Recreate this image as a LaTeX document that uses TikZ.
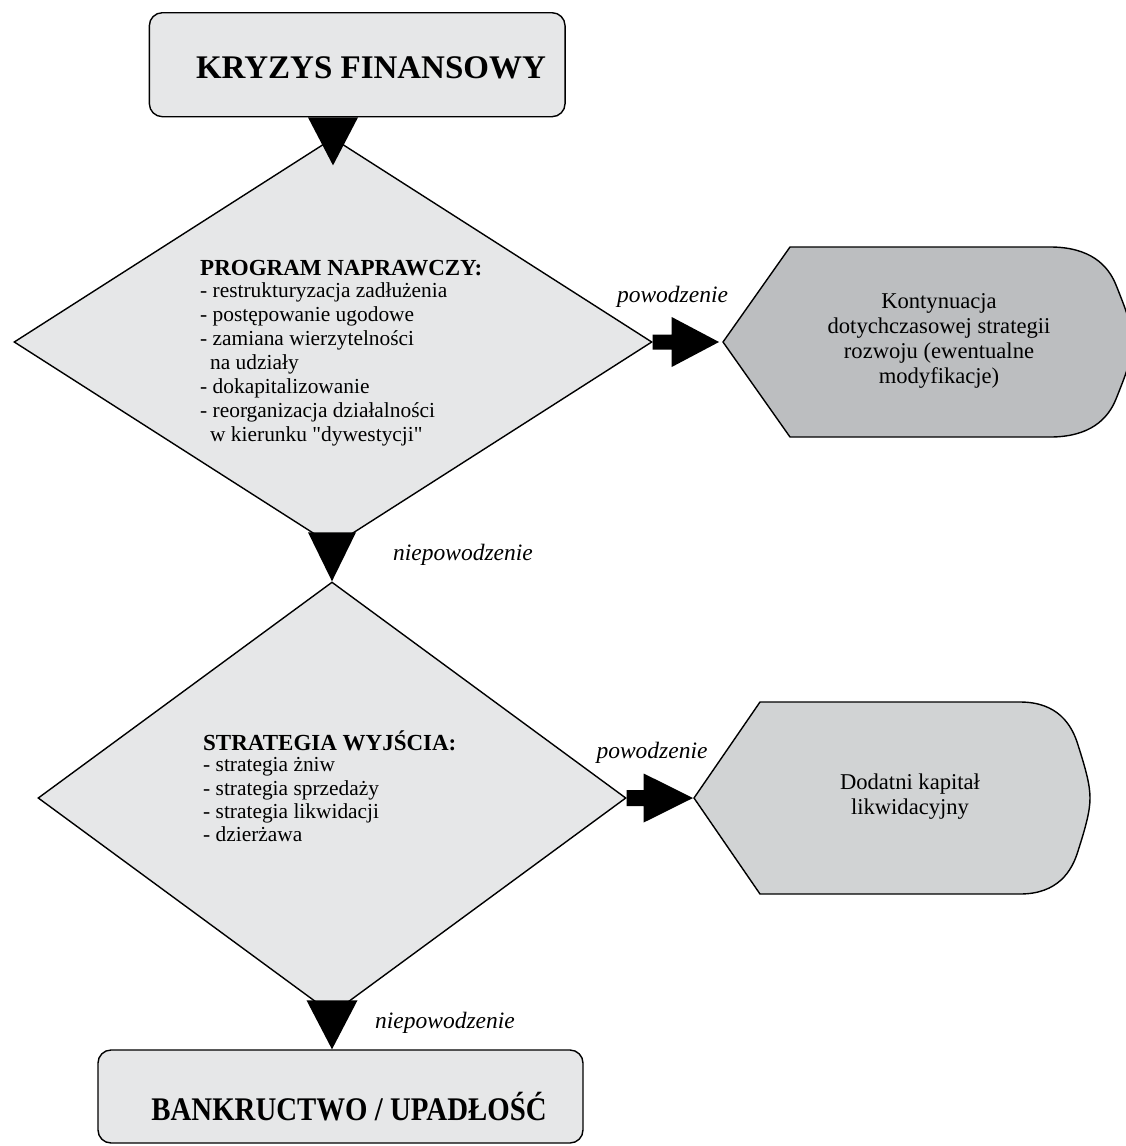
\documentclass[tikz,border=0pt]{standalone}
\usepackage{graphicx}
\usepackage{fontspec}
\setmainfont{Liberation Serif}[Ligatures=TeXOff]
\usetikzlibrary{shapes.geometric,calc}
\definecolor{lightfill}{HTML}{E6E7E8}
\definecolor{darkfill}{HTML}{BCBEC0}
\definecolor{midfill}{HTML}{D1D3D4}
\begin{document}
\begin{tikzpicture}[x=1pt,y=-1pt,
  outl/.style={draw=black, line width=1.4pt, line join=miter},
  roundbox/.style={outl, fill=lightfill, rectangle, rounded corners=13pt, inner sep=0pt},
  decision/.style={outl, fill=lightfill, diamond, inner sep=0pt},
  headtxt/.style={font=\bfseries\fontsize{23}{26}\selectfont, anchor=base west, inner sep=0pt},
  bodytxt/.style={font=\fontsize{21.4}{24}\selectfont, anchor=base west, align=left, inner sep=0pt},
  lbl/.style={font=\itshape\fontsize{23.5}{26}\selectfont, anchor=base, inner sep=0pt},
  outtxt/.style={font=\fontsize{22.6}{25}\selectfont, anchor=base, align=center, inner sep=0pt},
  bigtxt/.style={font=\bfseries\fontsize{33}{36}\selectfont, anchor=base, inner sep=0pt},
  tri/.style={fill=black, draw=none}]
\clip (0,0) rectangle (1126,1146);

% top box
\node[roundbox, minimum width=415.7pt, minimum height=104pt] (top) at (357.2,64.7) {};
\node[bigtxt] (toptxt) at (371,78.3) {KRYZYS FINANSOWY};

% diamond 1
\node[decision, minimum width=638pt, minimum height=408pt] (d1) at (333,342) {};
\node[headtxt] (d1h) at (200,275) {PROGRAM NAPRAWCZY:};
% base anchor of a multi-line node = baseline of its last line
\node[bodytxt] (d1b) at (200,441.7) {- restrukturyzacja zadłużenia\\- postępowanie ugodowe\\- zamiana wierzytelności\\\hspace*{10pt}na udziały\\- dokapitalizowanie\\- reorganizacja działalności\\\hspace*{10pt}w kierunku "dywestycji"};

% outcome 1
\coordinate (s1w) at (723,342);
\path[outl, fill=darkfill] (s1w) -- (790,247) -- (1050,247)
  .. controls (1090,247) and (1108,265) .. (1116,285)
  .. controls (1126,310) and (1132,325) .. (1132,342)
  .. controls (1132,359) and (1126,374) .. (1116,399)
  .. controls (1108,419) and (1090,437) .. (1050,437)
  -- (790,437) -- cycle;
\node[outtxt] (s1t) at (939,383) {Kontynuacja\\dotychczasowej strategii\\rozwoju (ewentualne\\modyfikacje)};

% diamond 2
\node[decision, minimum width=588pt, minimum height=432pt] (d2) at (332,798) {};
\node[headtxt] (d2h) at (203,750) {STRATEGIA WYJŚCIA:};
\node[bodytxt, font=\fontsize{21.4}{23.3}\selectfont] (d2b) at (203,841.6) {- strategia żniw\\- strategia sprzedaży\\- strategia likwidacji\\- dzierżawa};

% outcome 2
\coordinate (s2w) at (694,798);
\path[outl, fill=midfill] (s2w) -- (760,702) -- (1020,702)
  .. controls (1058,702) and (1072,725) .. (1078,745)
  .. controls (1086,770) and (1090,785) .. (1090,798)
  .. controls (1090,811) and (1086,826) .. (1078,851)
  .. controls (1072,871) and (1058,894) .. (1020,894)
  -- (760,894) -- cycle;
\node[outtxt] (s2t) at (910,814) {Dodatni kapitał\\likwidacyjny};

% bottom box
\node[roundbox, minimum width=485pt, minimum height=93pt] (bot) at (340.5,1096.5) {};
\node[bigtxt] (bottxt) at (349,1120) {\scalebox{0.874}[1]{BANKRUCTWO / UPADŁOŚĆ}};

% labels
\node[lbl] (l1) at (672.5,302) {powodzenie};
\node[lbl] (l2) at (652,758) {powodzenie};
\node[lbl] (l3) at (463,560) {niepowodzenie};
\node[lbl] (l4) at (445,1028) {niepowodzenie};

% connectors (black triangles / block arrows)
\fill[tri] ($(top.south -| d1.north)+(-25,0)$) -- ($(top.south -| d1.north)+(25,0)$) -- ($(top.south -| d1.north)+(0,48)$) -- cycle;
\fill[tri] ($(d2.north)+(-24,-49)$) -- ($(d2.north)+(24,-49)$) -- (d2.north) -- cycle;
\fill[tri] ($(bot.north -| d2.south)+(-25.5,-49)$) -- ($(bot.north -| d2.south)+(25.5,-49)$) -- (bot.north -| d2.south) -- cycle;
\fill[tri] ($(d1.east)+(0,-7.5)$) -- ($(d1.east)+(19,-7.5)$) -- ($(d1.east)+(19,-25)$) -- ($(s1w)+(-4,0)$) -- ($(d1.east)+(19,25)$) -- ($(d1.east)+(19,7.5)$) -- ($(d1.east)+(0,7.5)$) -- cycle;
\fill[tri] ($(d2.east)+(0,-8)$) -- ($(d2.east)+(17,-8)$) -- ($(d2.east)+(17,-24.5)$) -- ($(s2w)+(-1,0)$) -- ($(d2.east)+(17,24.5)$) -- ($(d2.east)+(17,8)$) -- ($(d2.east)+(0,8)$) -- cycle;
\end{tikzpicture}
\end{document}
